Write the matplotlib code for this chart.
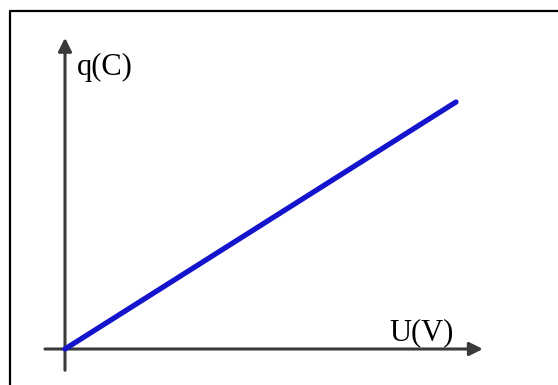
import matplotlib
matplotlib.use("Agg")
import matplotlib.pyplot as plt
from matplotlib.lines import Line2D

# ── Data: q = C * U (straight line through the origin) ──────
U = [0, 8]
Q = [0, 5]
X_LABEL = "U(V)"
Y_LABEL = "q(C)"

plt.rcParams.update({
    "font.family": ["Liberation Serif", "DejaVu Serif"],
    "font.size": 22,
})

W, H = 558, 385
fig = plt.figure(figsize=(W / 100, H / 100), dpi=100)
ax = fig.add_axes([0, 0, 1, 1])

# map data so the origin sits at pixel (65, 349)
px_x = 48.875
px_y = 49.4
ox, oy = 65, H - 349
ax.set_xlim(-ox / px_x, (W - ox) / px_x)
ax.set_ylim(-oy / px_y, (H - oy) / px_y)
ax.axis("off")

axis_col = "#3a3a3a"
arrow = dict(arrowstyle="-|>", color=axis_col, lw=2.2, mutation_scale=20,
             shrinkA=0, shrinkB=0)
# horizontal axis
ax.annotate("", xy=(8.55, 0), xytext=(-0.41, 0), arrowprops=arrow)
# vertical axis
ax.annotate("", xy=(0, 6.30), xytext=(0, -0.43), arrowprops=arrow)

ax.plot(U, Q, color="#1414cc", lw=3.8, solid_capstyle="round", zorder=3)

ax.text(0.245, 5.55, Y_LABEL, ha="left", va="baseline", color="black")
ax.text(6.63, 0.18, X_LABEL, ha="left", va="baseline", color="black")

# frame (top and left edges visible in the crop)
fx = 9.5 / W
fy = 1 - 11 / H
fig.add_artist(Line2D([fx, fx, 1.01], [-0.01, fy, fy], transform=fig.transFigure,
                      color="black", lw=1.6))

fig.savefig("out.png", dpi=100)
